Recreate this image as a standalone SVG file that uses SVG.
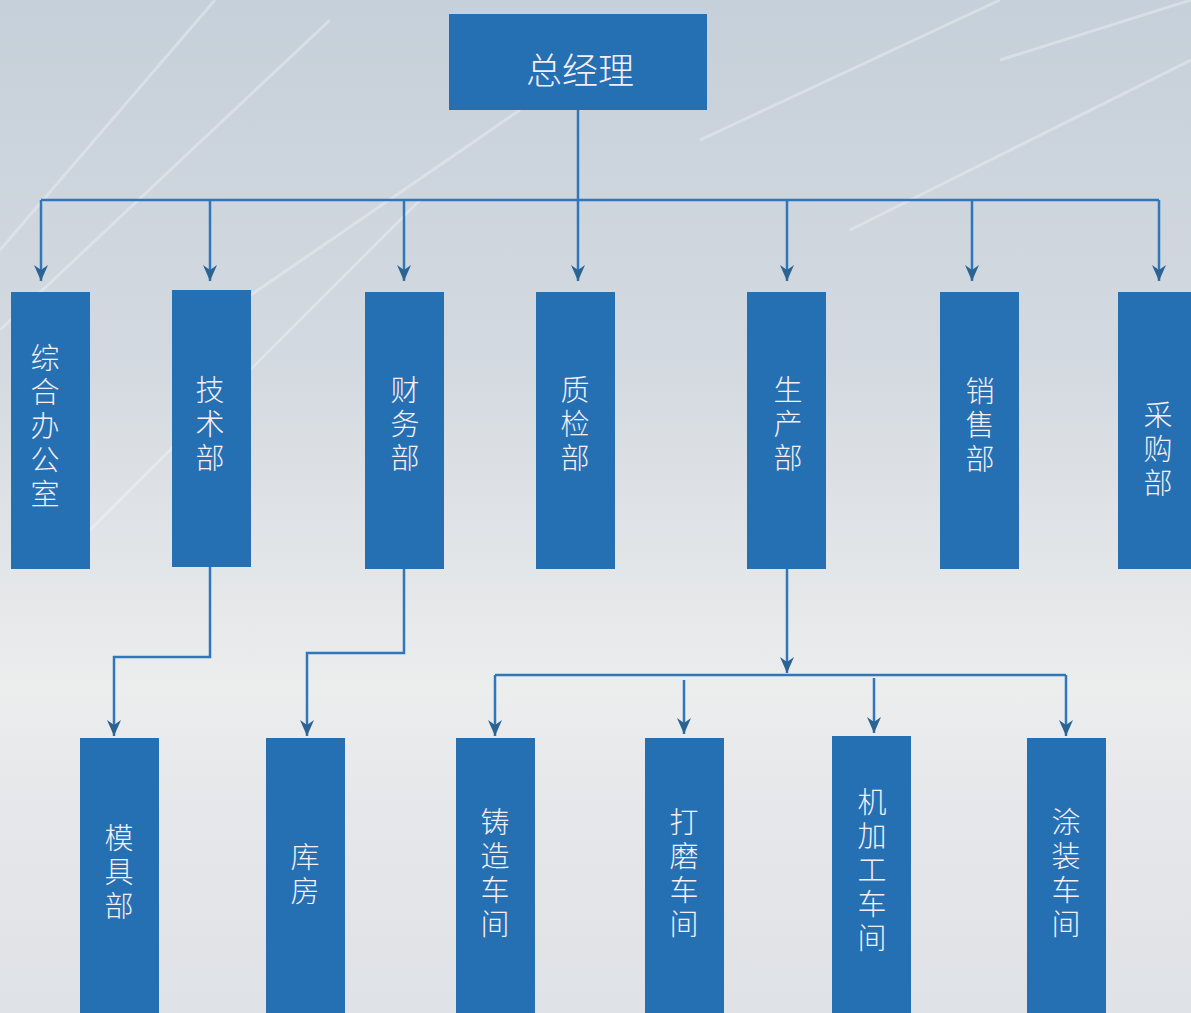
<svg xmlns="http://www.w3.org/2000/svg" width="1191" height="1013" viewBox="0 0 1191 1013">
<defs>
<linearGradient id="bg" x1="0" y1="0" x2="0" y2="1">
<stop offset="0" stop-color="#c6d0da"/>
<stop offset="0.35" stop-color="#d3d9e0"/>
<stop offset="0.68" stop-color="#eceded"/>
<stop offset="0.8" stop-color="#e6e7ea"/>
<stop offset="1" stop-color="#dfe2e6"/>
</linearGradient>
<marker id="arr" viewBox="0 -7 16 14" refX="16" refY="0" markerWidth="16" markerHeight="14" markerUnits="userSpaceOnUse" orient="auto">
<path d="M0,-7 L16,0 L0,7 L5,0 Z" fill="#2b6392"/>
</marker>
<style>
.box{fill:#2470b3;}
.lbl{font-family:"Noto Sans CJK SC","Noto Sans",sans-serif;font-size:29px;font-weight:300;fill:#f6eef5;text-anchor:middle;}
.v{writing-mode:vertical-rl;text-orientation:upright;letter-spacing:5px;}
.ttl{font-size:36px;dominant-baseline:central;}
.ln{fill:none;stroke:#2f77ba;stroke-width:2.5;}
.ar{marker-end:url(#arr);}
.streak{stroke:#ffffff;stroke-opacity:0.3;stroke-width:3;fill:none;}
</style>
</defs>
<rect x="0" y="0" width="1191" height="1013" fill="url(#bg)"/>
<g id="background-streaks">
<path class="streak" d="M0,250 L215,0"/>
<path class="streak" d="M0,330 L330,20"/>
<path class="streak" d="M60,560 L420,200"/>
<path class="streak" d="M200,330 L520,110"/>
<path class="streak" d="M700,140 L1000,0"/>
<path class="streak" d="M850,230 L1191,60"/>
<path class="streak" d="M1000,60 L1191,0"/>
</g>
<g id="connectors">
<path class="ln" d="M578,110 V200"/>
<path class="ln" d="M41,200 H1159"/>
<path class="ln ar" d="M41,200 V281"/>
<path class="ln ar" d="M210,200 V281"/>
<path class="ln ar" d="M404,200 V281"/>
<path class="ln ar" d="M578,200 V281"/>
<path class="ln ar" d="M787,200 V281"/>
<path class="ln ar" d="M972,200 V281"/>
<path class="ln ar" d="M1159,200 V281"/>
<path class="ln ar" d="M210,567 V657 H114 V736"/>
<path class="ln ar" d="M404,569 V653 H307 V736"/>
<path class="ln ar" d="M787,569 V673"/>
<path class="ln" d="M495,675 H1066"/>
<path class="ln ar" d="M495,675 V736"/>
<path class="ln ar" d="M684,680 V734"/>
<path class="ln ar" d="M874,678 V733"/>
<path class="ln ar" d="M1066,675 V736"/>
</g>
<g id="n-general-manager">
<rect class="box" x="449" y="14" width="258" height="96"/>
<text class="lbl ttl" x="580" y="68">总经理</text>
</g>
<g id="n-office">
<rect class="box" x="11" y="292" width="79" height="277"/>
<text class="lbl v" x="45" y="428">综合办公室</text>
</g>
<g id="n-tech">
<rect class="box" x="172" y="290" width="79" height="277"/>
<text class="lbl v" x="210" y="426">技术部</text>
</g>
<g id="n-finance">
<rect class="box" x="365" y="292" width="79" height="277"/>
<text class="lbl v" x="405" y="426">财务部</text>
</g>
<g id="n-qc">
<rect class="box" x="536" y="292" width="79" height="277"/>
<text class="lbl v" x="575" y="426">质检部</text>
</g>
<g id="n-production">
<rect class="box" x="747" y="292" width="79" height="277"/>
<text class="lbl v" x="788" y="426">生产部</text>
</g>
<g id="n-sales">
<rect class="box" x="940" y="292" width="79" height="277"/>
<text class="lbl v" x="980" y="427">销售部</text>
</g>
<g id="n-purchase">
<rect class="box" x="1118" y="292" width="79" height="277"/>
<text class="lbl v" x="1158" y="451">采购部</text>
</g>
<g id="n-mold">
<rect class="box" x="80" y="738" width="79" height="280"/>
<text class="lbl v" x="119" y="874">模具部</text>
</g>
<g id="n-warehouse">
<rect class="box" x="266" y="738" width="79" height="280"/>
<text class="lbl v" x="305" y="876">库房</text>
</g>
<g id="n-casting">
<rect class="box" x="456" y="738" width="79" height="280"/>
<text class="lbl v" x="495" y="875">铸造车间</text>
</g>
<g id="n-grinding">
<rect class="box" x="645" y="738" width="79" height="280"/>
<text class="lbl v" x="684" y="875">打磨车间</text>
</g>
<g id="n-machining">
<rect class="box" x="832" y="736" width="79" height="282"/>
<text class="lbl v" x="872" y="872">机加工车间</text>
</g>
<g id="n-painting">
<rect class="box" x="1027" y="738" width="79" height="280"/>
<text class="lbl v" x="1066" y="875">涂装车间</text>
</g>
</svg>
